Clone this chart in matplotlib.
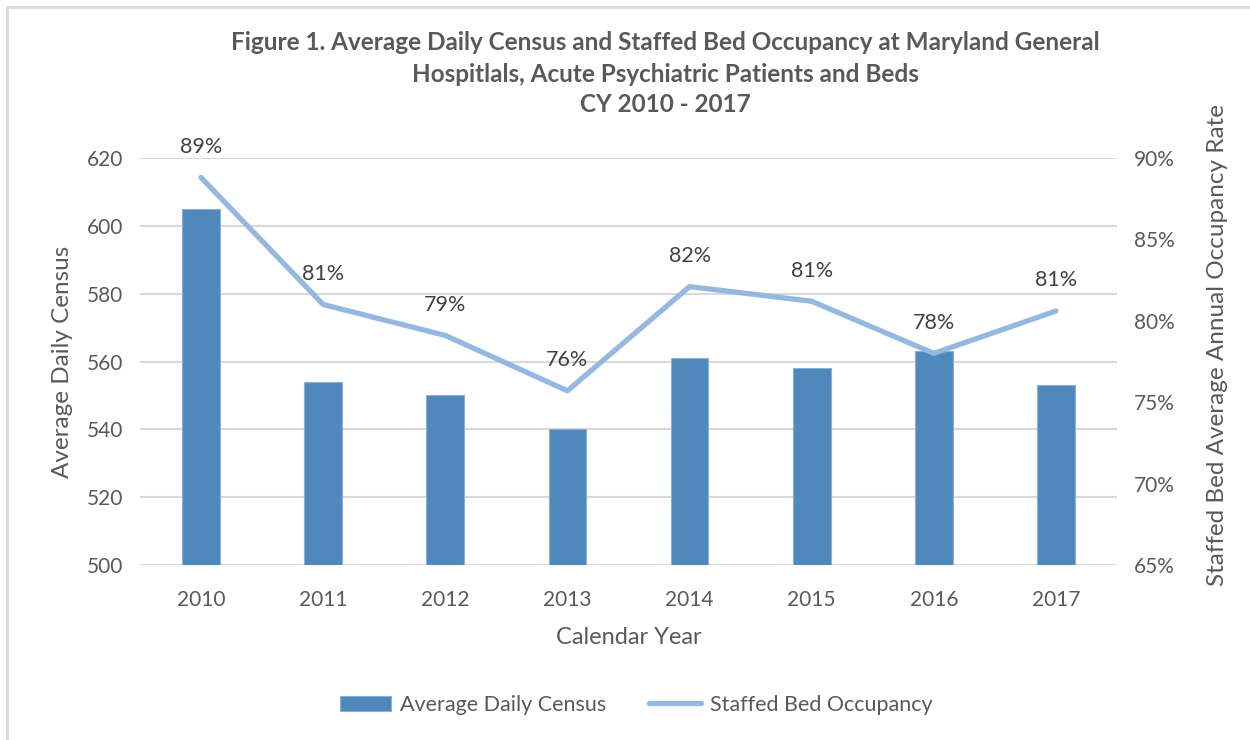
import matplotlib.pyplot as plt
from matplotlib.patches import Rectangle
from matplotlib.ticker import PercentFormatter
import numpy as np

# data
years = ['2010', '2011', '2012', '2013', '2014', '2015', '2016', '2017']
census = [605, 554, 550, 540, 561, 558, 563, 553]
occupancy = [0.888, 0.810, 0.791, 0.757, 0.821, 0.812, 0.780, 0.806]

bar_color = '#4F88BB'
line_color = '#95B8E0'
grid_color = '#D9D9D9'
tick_color = '#595959'
label_color = '#404040'

plt.rcParams['font.family'] = ['Lato', 'DejaVu Sans']

fig = plt.figure(figsize=(12.5, 7.4), dpi=100)
# light chart frame
fig.patches.append(Rectangle((7 / 1250, -0.05), 1.1, 1 - 7 / 740 + 0.05,
                             transform=fig.transFigure, fill=False,
                             edgecolor=grid_color, linewidth=2))

ax = fig.add_axes([140 / 1250, 1 - 565 / 740, 977 / 1250, 407 / 740])
x = np.arange(len(years))

ax.bar(x, census, width=0.31, color=bar_color, edgecolor='#8DB0D8',
       linewidth=0.8, zorder=2, label='Average Daily Census')
ax.set_ylim(500, 620)
ax.set_yticks(range(500, 621, 20))
ax.set_xlim(-0.5, len(years) - 0.5)
ax.set_xticks(x)
ax.set_xticklabels(years)
ax.yaxis.grid(True, color=grid_color, linewidth=1.5, zorder=0)
ax.set_axisbelow(True)
for s in ax.spines.values():
    s.set_visible(False)
ax.tick_params(length=0, labelsize=15, colors=tick_color, pad=12)
ax.tick_params(axis='x', pad=18)
ax.set_ylabel('Average Daily Census', fontsize=17.5, color=tick_color, labelpad=10)
ax.set_xlabel('Calendar Year', fontsize=17, color=tick_color, labelpad=12)

ax2 = ax.twinx()
ax2.plot(x, occupancy, color=line_color, linewidth=3.8, solid_capstyle='round',
         zorder=3, label='Staffed Bed Occupancy')
ax2.set_ylim(0.65, 0.90)
ax2.set_yticks(np.arange(0.65, 0.901, 0.05))
ax2.yaxis.set_major_formatter(PercentFormatter(1.0, decimals=0))
for s in ax2.spines.values():
    s.set_visible(False)
ax2.tick_params(length=0, labelsize=15, colors=tick_color, pad=12)
ax2.set_ylabel('Staffed Bed Average Annual Occupancy Rate', fontsize=17.5,
               color=tick_color)
ax2.yaxis.set_label_coords(1.092, 0.54)

for xi, v in zip(x, occupancy):
    ax2.annotate('{:.0%}'.format(v), (xi, v), xytext=(0, 22),
                 textcoords='offset points', ha='center', va='center',
                 fontsize=15.5, color=label_color)

title_lines = ['Figure 1. Average Daily Census and Staffed Bed Occupancy at Maryland General',
               'Hospitlals, Acute Psychiatric Patients and Beds',
               'CY 2010 - 2017']
for line, ypx in zip(title_lines, [42, 74, 105]):
    fig.text(0.532, 1 - ypx / 740, line, ha='center', va='center',
             fontsize=17.5, fontweight='bold', color=tick_color)

h1, l1 = ax.get_legend_handles_labels()
h2, l2 = ax2.get_legend_handles_labels()
fig.legend(h1 + h2, l1 + l2, loc='center', bbox_to_anchor=(636 / 1250, 1 - 705 / 740),
           ncol=2, frameon=False, fontsize=15.5, handlelength=2.4,
           columnspacing=2.0, handletextpad=0.4, labelcolor=tick_color)

plt.savefig('out.png', dpi=100)
